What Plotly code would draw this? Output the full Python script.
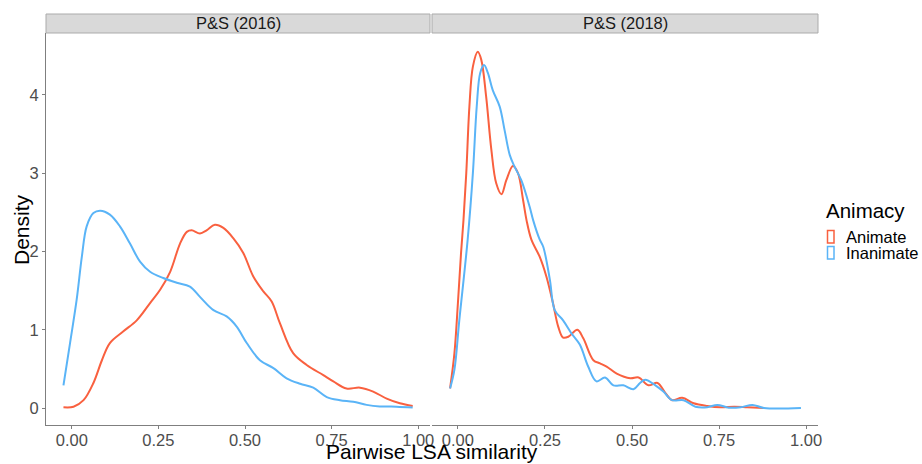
import plotly.graph_objects as go

# ---- data ----
left_animate_x = [-0.024, 0.005, 0.034, 0.0625, 0.087, 0.11, 0.149, 0.1875, 0.226, 0.255, 0.284, 0.3125, 0.332, 0.346, 0.37, 0.389, 0.413, 0.4375, 0.466, 0.495, 0.524, 0.553, 0.577, 0.601, 0.639, 0.678, 0.726, 0.755, 0.793, 0.832, 0.87, 0.909, 0.947, 0.984]
left_animate_y = [0.01, 0.017, 0.10, 0.32, 0.61, 0.83, 0.98, 1.12, 1.34, 1.51, 1.74, 2.10, 2.25, 2.27, 2.23, 2.27, 2.34, 2.30, 2.17, 1.98, 1.68, 1.49, 1.36, 1.08, 0.70, 0.55, 0.42, 0.34, 0.25, 0.26, 0.21, 0.12, 0.06, 0.026]

left_inanimate_x = [-0.024, -0.005, 0.014, 0.029, 0.043, 0.0625, 0.082, 0.11, 0.139, 0.168, 0.197, 0.226, 0.264, 0.303, 0.341, 0.37, 0.409, 0.447, 0.476, 0.505, 0.543, 0.582, 0.62, 0.659, 0.697, 0.736, 0.774, 0.8125, 0.851, 0.889, 0.9375, 0.984]
left_inanimate_y = [0.29, 0.83, 1.38, 1.93, 2.32, 2.49, 2.52, 2.47, 2.32, 2.10, 1.87, 1.74, 1.66, 1.60, 1.55, 1.42, 1.25, 1.17, 1.04, 0.83, 0.61, 0.51, 0.38, 0.31, 0.26, 0.14, 0.10, 0.08, 0.04, 0.02, 0.017, 0.005]

right_animate_x = [-0.0225, -0.01, 0.0, 0.009, 0.016, 0.024, 0.033, 0.043, 0.057, 0.067, 0.081, 0.096, 0.11, 0.125, 0.139, 0.158, 0.1725, 0.187, 0.197, 0.211, 0.235, 0.254, 0.273, 0.288, 0.302, 0.317, 0.343, 0.36, 0.389, 0.408, 0.427, 0.456, 0.495, 0.519, 0.547, 0.573, 0.596, 0.615, 0.644, 0.677, 0.716, 0.754, 0.793, 0.831, 0.879]
right_animate_y = [0.25, 0.70, 1.34, 1.98, 2.40, 3.0, 3.85, 4.36, 4.55, 4.45, 3.98, 3.30, 2.87, 2.73, 2.91, 3.09, 3.0, 2.66, 2.40, 2.15, 1.93, 1.68, 1.34, 1.04, 0.90, 0.91, 1.0, 0.89, 0.61, 0.57, 0.53, 0.44, 0.38, 0.39, 0.29, 0.32, 0.19, 0.10, 0.13, 0.06, 0.026, 0.009, 0.017, 0.01, 0.0]

right_inanimate_x = [-0.0225, -0.01, 0.004, 0.028, 0.043, 0.054, 0.064, 0.075, 0.086, 0.1, 0.12, 0.134, 0.149, 0.163, 0.182, 0.206, 0.216, 0.235, 0.245, 0.264, 0.278, 0.302, 0.3265, 0.35, 0.374, 0.398, 0.4225, 0.4465, 0.475, 0.504, 0.523, 0.538, 0.567, 0.59, 0.615, 0.648, 0.682, 0.716, 0.745, 0.778, 0.812, 0.846, 0.879, 0.985]
right_inanimate_y = [0.25, 0.49, 1.12, 2.15, 3.0, 3.85, 4.28, 4.38, 4.28, 4.06, 3.85, 3.55, 3.23, 3.08, 2.91, 2.57, 2.40, 2.15, 2.06, 1.64, 1.25, 1.12, 0.95, 0.81, 0.53, 0.34, 0.39, 0.29, 0.29, 0.24, 0.32, 0.36, 0.29, 0.21, 0.10, 0.10, 0.017, 0.01, 0.04, 0.004, 0.01, 0.04, 0.0, 0.0]

panel_titles = ["P&S (2016)", "P&S (2018)"]
groups = ["Animate", "Inanimate"]
x_ticks = [0, 0.25, 0.5, 0.75, 1.0]
y_ticks = [0, 1, 2, 3, 4]

RED = "#F9603F"
BLUE = "#5AB4F7"
FONT = "Liberation Sans, Arial, sans-serif"

W, H = 922, 464
PL, PR, PT, PB = 46, 818, 33, 425   # plot region in screen px
ML, MT, MR, MB = PL, PT, W - PR, H - PB
PW = W - ML - MR
PH = H - MT - MB

def px(xs):
    return (xs - PL) / PW

def py(ys):
    return (PB - ys) / PH

fig = go.Figure()
line_w = 2
fig.add_trace(go.Scatter(x=left_animate_x, y=left_animate_y, mode="lines", line=dict(color=RED, width=line_w, shape="spline", smoothing=1), xaxis="x", yaxis="y", showlegend=False))
fig.add_trace(go.Scatter(x=left_inanimate_x, y=left_inanimate_y, mode="lines", line=dict(color=BLUE, width=line_w, shape="spline", smoothing=1), xaxis="x", yaxis="y", showlegend=False))
fig.add_trace(go.Scatter(x=right_animate_x, y=right_animate_y, mode="lines", line=dict(color=RED, width=line_w, shape="spline", smoothing=1), xaxis="x2", yaxis="y2", showlegend=False))
fig.add_trace(go.Scatter(x=right_inanimate_x, y=right_inanimate_y, mode="lines", line=dict(color=BLUE, width=line_w, shape="spline", smoothing=1), xaxis="x2", yaxis="y2", showlegend=False))

xr = [-0.0744, 1.034]
yr = [-0.217, 4.79]
axis_col = "#7F7F7F"
tick_font = dict(family=FONT, size=16.5, color="#4D4D4D")

common_x = dict(range=xr, tickvals=x_ticks, tickformat=".2f", showgrid=False, zeroline=False,
                showline=True, linecolor=axis_col, linewidth=1, ticks="outside", ticklen=3,
                tickcolor=axis_col, tickfont=tick_font, fixedrange=True, automargin=False,
                ticklabelstandoff=-3)
fig.update_layout(
    width=W, height=H,
    margin=dict(l=ML, r=MR, t=MT, b=MB),
    paper_bgcolor="white", plot_bgcolor="white",
    xaxis=dict(domain=[0, px(430)], anchor="y", **common_x),
    xaxis2=dict(domain=[px(432), 1], anchor="y2", **common_x),
    yaxis=dict(domain=[0, 1], anchor="x", range=yr, tickvals=y_ticks, showgrid=False, zeroline=False,
               showline=True, linecolor=axis_col, linewidth=1, ticks="outside", ticklen=3,
               tickcolor=axis_col, tickfont=tick_font, automargin=False, fixedrange=True),
    yaxis2=dict(domain=[0, 1], anchor="x2", range=yr, tickvals=y_ticks, showgrid=False, zeroline=False,
                showline=False, showticklabels=False, ticks="", fixedrange=True),
    showlegend=False,
    hovermode=False,
)

shapes = []
annotations = []
# facet strips
for (x0, x1), title in zip([(46, 430), (432, 818)], panel_titles):
    shapes.append(dict(type="rect", xref="paper", yref="paper", x0=px(x0), x1=px(x1), y0=py(33), y1=py(14),
                       fillcolor="#D9D9D9", line=dict(color="#ABABAB", width=1)))
    annotations.append(dict(xref="paper", yref="paper", x=px((x0 + x1) / 2), y=py(23.5), text=title, showarrow=False,
                            font=dict(family=FONT, size=16.5, color="#1A1A1A"), xanchor="center", yanchor="middle"))

# axis titles
annotations.append(dict(xref="paper", yref="paper", x=px(432), y=py(452), text="Pairwise LSA similarity", showarrow=False,
                        font=dict(family=FONT, size=21, color="black"), xanchor="center", yanchor="middle",
                        borderpad=0))
annotations.append(dict(xref="paper", yref="paper", x=px(21), y=py(230), text="Density", showarrow=False, textangle=-90,
                        font=dict(family=FONT, size=21, color="black"), xanchor="center", yanchor="middle"))

# legend
annotations.append(dict(xref="paper", yref="paper", x=px(824), y=py(210), text="Animacy", showarrow=False,
                        font=dict(family=FONT, size=20.5, color="black"), xanchor="left", yanchor="middle"))
for (y0, y1), col, lab in zip([(230.5, 243), (246.5, 259)], [RED, BLUE], groups):
    shapes.append(dict(type="rect", xref="paper", yref="paper", x0=px(827.5), x1=px(834), y0=py(y1), y1=py(y0),
                       fillcolor="rgba(0,0,0,0)", line=dict(color=col, width=1.5)))
    annotations.append(dict(xref="paper", yref="paper", x=px(844), y=py((y0 + y1) / 2), text=lab, showarrow=False,
                            font=dict(family=FONT, size=16.5, color="black"), xanchor="left", yanchor="middle"))

fig.update_layout(shapes=shapes, annotations=annotations)
fig.write_html("out.html",
               config={"displayModeBar": False, "staticPlot": True},
               post_script="document.body.style.margin='0';document.body.style.overflow='hidden';")
